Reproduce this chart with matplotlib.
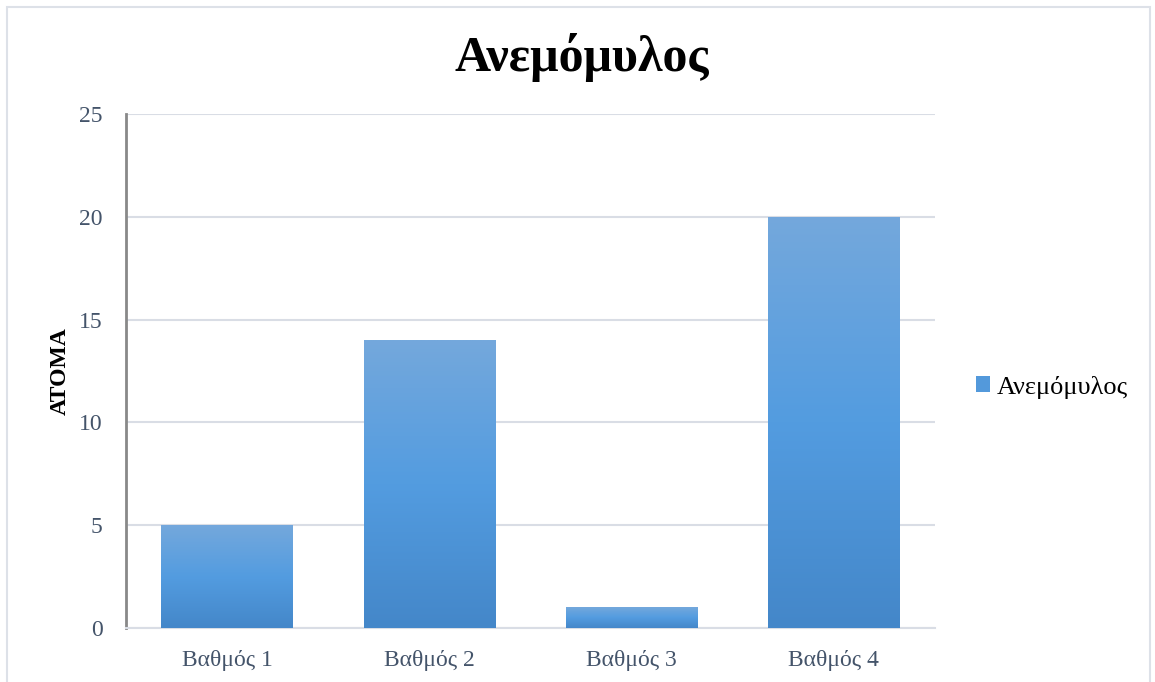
import matplotlib.pyplot as plt
import numpy as np
from matplotlib.colors import LinearSegmentedColormap
from matplotlib.patches import Rectangle

categories = ["Βαθμός 1", "Βαθμός 2", "Βαθμός 3", "Βαθμός 4"]
values = [5, 14, 1, 20]
series_name = "Ανεμόμυλος"
title = "Ανεμόμυλος"
ylabel = "ΑΤΟΜΑ"
yticks = [0, 5, 10, 15, 20, 25]

plt.rcParams["font.family"] = ["Liberation Serif", "DejaVu Serif"]
TICK_COLOR = "#44546A"
GRID_COLOR = "#D9DDE5"

grad = LinearSegmentedColormap.from_list(
    "bar", ["#4487C9", "#539CE0", "#74A8DC"])

fig = plt.figure(figsize=(11.55, 6.82), dpi=100)
ax = fig.add_axes([126 / 1155, 1 - 628 / 682, (935 - 126) / 1155, (628 - 114) / 682])

# outer border like the chart area frame
fig.add_artist(Rectangle((7 / 1155, -0.01), 1143 / 1155, 1 - 7 / 682 + 0.01,
                         transform=fig.transFigure, fill=False,
                         edgecolor="#DDE1E8", lw=1.5))

x = np.arange(len(categories))
bars = ax.bar(x, values, width=0.65, color="none", edgecolor="none", zorder=3)
ramp = np.linspace(0, 1, 256).reshape(-1, 1)
for b in bars:
    x0, w, h = b.get_x(), b.get_width(), b.get_height()
    im = ax.imshow(ramp, cmap=grad, aspect="auto", origin="lower",
                   extent=[x0, x0 + w, 0, h], zorder=3)
    im.set_clip_path(b)

ax.set_xlim(-0.5, len(categories) - 0.5)
ax.set_ylim(0, 25)
ax.set_yticks(yticks)
ax.set_xticks(x)
ax.set_xticklabels(categories)
ax.tick_params(length=0, labelsize=17, colors=TICK_COLOR)
ax.tick_params(axis="x", pad=16)
ax.tick_params(axis="y", pad=17)
ax.yaxis.grid(True, color=GRID_COLOR, lw=1.5, zorder=0)
ax.set_axisbelow(True)
for s in ["top", "right"]:
    ax.spines[s].set_visible(False)
ax.spines["left"].set_color("#898989")
ax.spines["left"].set_linewidth(2)
ax.spines["bottom"].set_color(GRID_COLOR)
ax.spines["bottom"].set_linewidth(1.5)

ax.set_ylabel(ylabel, fontsize=17, fontweight="bold", color="black")
ax.yaxis.set_label_coords(-0.068, 0.5)
fig.text(582 / 1155, 1 - 58 / 682, title, fontsize=36, fontweight="bold",
         ha="center", va="center")

handle = Rectangle((0, 0), 1, 1, facecolor="#5399DB")
fig.legend([handle], [series_name], loc="center left",
           bbox_to_anchor=(952 / 1155, 1 - 387 / 682), frameon=False,
           fontsize=19, handlelength=0.55, handleheight=0.55, handletextpad=0.25)

fig.savefig("out.png", dpi=100)
